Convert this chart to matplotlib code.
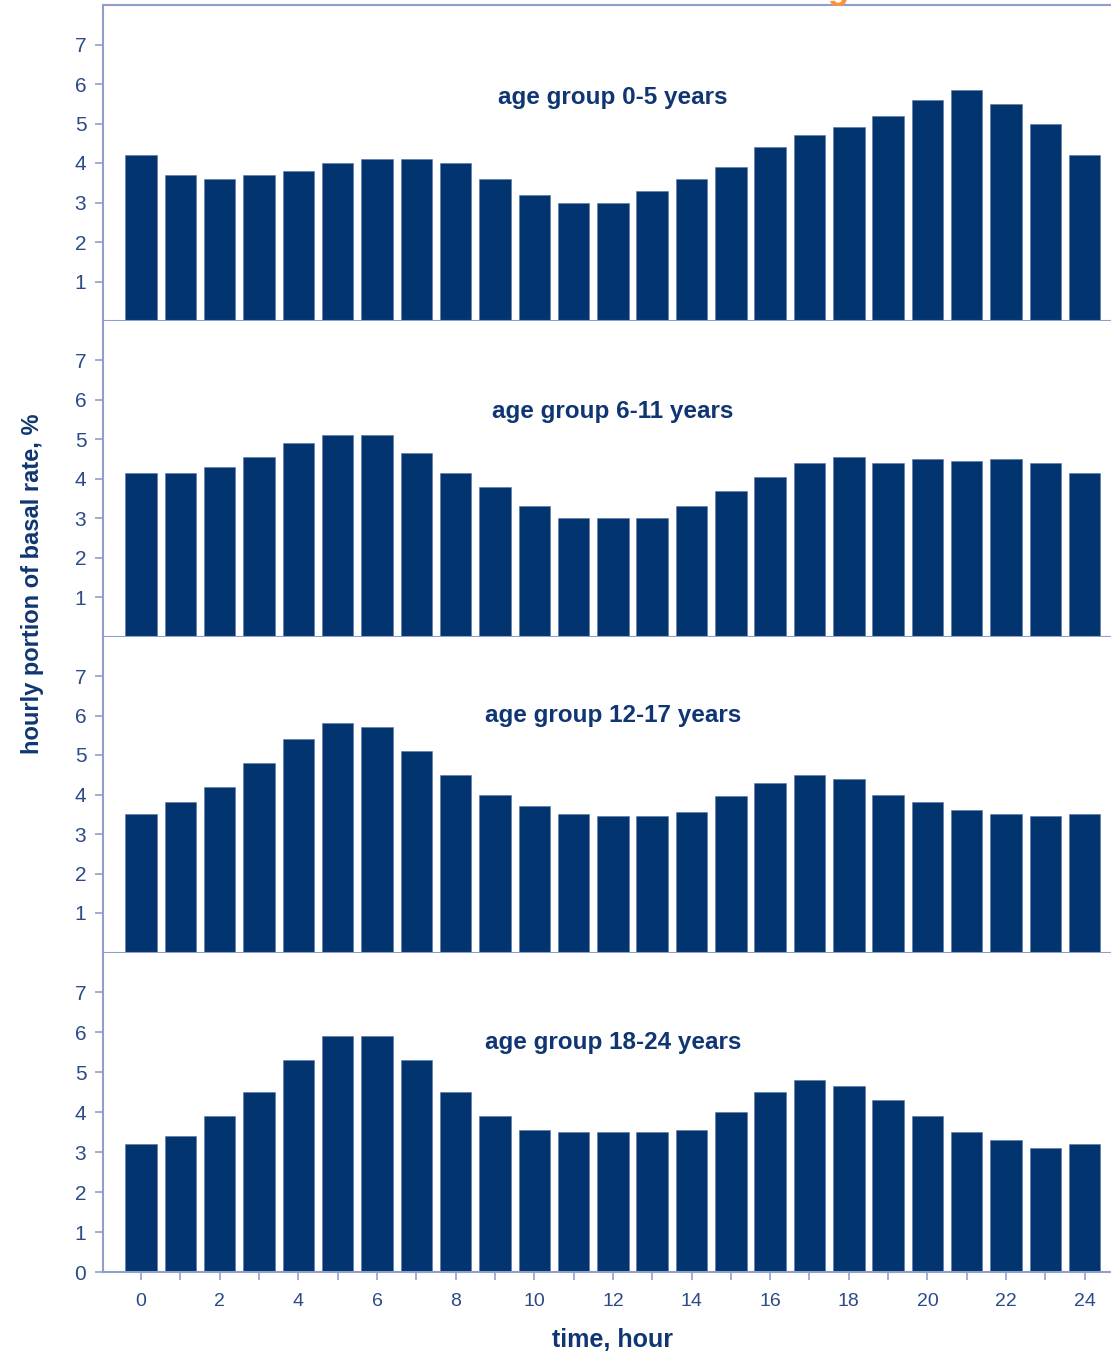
import matplotlib
matplotlib.use('Agg')
import matplotlib.pyplot as plt

# hourly portion of basal rate (%) per hour
hours = list(range(25))
age_0_5 = [4.2, 3.7, 3.6, 3.7, 3.8, 4.0, 4.1, 4.1, 4.0, 3.6, 3.2, 3.0, 3.0,
           3.3, 3.6, 3.9, 4.4, 4.7, 4.9, 5.2, 5.6, 5.85, 5.5, 5.0, 4.2]
age_6_11 = [4.15, 4.15, 4.3, 4.55, 4.9, 5.1, 5.1, 4.65, 4.15, 3.8, 3.3, 3.0, 3.0,
            3.0, 3.3, 3.7, 4.05, 4.4, 4.55, 4.4, 4.5, 4.45, 4.5, 4.4, 4.15]
age_12_17 = [3.5, 3.8, 4.2, 4.8, 5.4, 5.8, 5.7, 5.1, 4.5, 4.0, 3.7, 3.5, 3.45,
             3.45, 3.55, 3.95, 4.3, 4.5, 4.4, 4.0, 3.8, 3.6, 3.5, 3.45, 3.5]
age_18_24 = [3.2, 3.4, 3.9, 4.5, 5.3, 5.9, 5.9, 5.3, 4.5, 3.9, 3.55, 3.5, 3.5,
             3.5, 3.55, 4.0, 4.5, 4.8, 4.65, 4.3, 3.9, 3.5, 3.3, 3.1, 3.2]
group_labels = ['age group 0-5 years', 'age group 6-11 years',
                'age group 12-17 years', 'age group 18-24 years']
label_heights = [5.66, 5.71, 6.0, 5.75]

bar_color = '#02346f'
line_color = '#8d9fca'
tick_text_color = '#2c4a88'
title_color = '#0f3672'

plt.rcParams['font.family'] = ['Liberation Sans', 'DejaVu Sans']

fig = plt.figure(figsize=(11.11, 13.59), dpi=100)

left = 103 / 1111
panel_px = [(5, 321), (321, 636.5), (636.5, 952.5), (952.5, 1272)]
series = [age_0_5, age_6_11, age_12_17, age_18_24]

for i, (top_px, bot_px) in enumerate(panel_px):
    bottom = 1 - bot_px / 1359
    height = (bot_px - top_px) / 1359
    ax = fig.add_axes([left, bottom, 1 - left, height])
    ax.bar(hours, series[i], width=0.8, color=bar_color, edgecolor='#5a74a8', linewidth=0.4)
    ax.set_xlim(-0.97, 24.67)
    ax.set_ylim(0, 8.0)

    ax.spines['right'].set_visible(False)
    ax.spines['top'].set_visible(i == 0)
    for side in ['left', 'bottom', 'top']:
        ax.spines[side].set_color(line_color)
        ax.spines[side].set_linewidth(1.5)

    if i == 3:
        ax.set_yticks(range(0, 8))
    else:
        ax.set_yticks(range(1, 8))
    ax.tick_params(axis='y', direction='out', length=6, width=1.2, color=line_color,
                   labelcolor=tick_text_color, labelsize=15, pad=6)

    if i == 3:
        ax.set_xticks(range(0, 25, 2))
        ax.set_xticks(range(1, 25, 2), minor=True)
        ax.tick_params(axis='x', which='both', direction='out', length=6, width=1.2,
                       color=line_color, labelcolor=tick_text_color, labelsize=14, pad=9)
    else:
        ax.set_xticks([])

    ax.text(12, label_heights[i], group_labels[i], ha='center', va='center',
            fontsize=17.5, fontweight='bold', color=title_color)

fig.text(32.5 / 1111, 1 - 583.5 / 1359, 'hourly portion of basal rate, %', rotation=90,
         ha='center', va='center', fontsize=17, fontweight='bold', color=title_color)
fig.text(612 / 1111, 1 - 1340 / 1359, 'time, hour', ha='center', va='center',
         fontsize=18, fontweight='bold', color=title_color)

# only the descender of a cut-off heading letter shows at the very top edge
fig.text(838 / 1111, 1 + 1 / 1359, 'g', ha='center', va='baseline',
         fontsize=25, fontweight='bold', color='#f7943d')

plt.savefig('out.png', dpi=100)
plt.close()
